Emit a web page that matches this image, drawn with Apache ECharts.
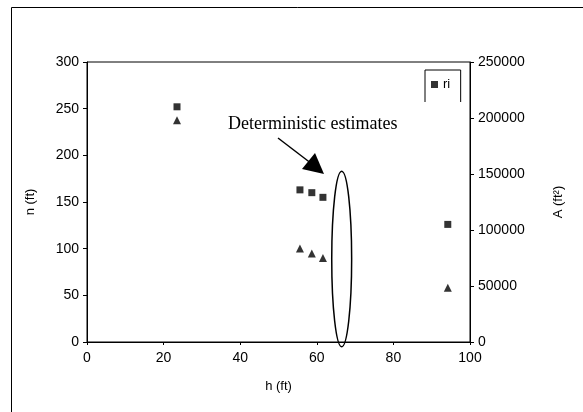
<!DOCTYPE html>
<html>
<head>
<meta charset="utf-8">
<script src="https://cdn.jsdelivr.net/npm/echarts@6/dist/echarts.min.js"></script>
<style>
  html, body { margin: 0; padding: 0; background: #fff; }
  #chart { width: 583px; height: 412px; }
</style>
</head>
<body>
<div id="chart"></div>
<script>
  // data
  var hValues = [23.5, 55.6, 58.7, 61.6, 94.2];
  var riValues = [252, 163, 160, 155, 126];
  var aValues = [198000, 83500, 79000, 75000, 48500];
  var xTicks = [0, 100, 20];      // min, max, interval
  var nTicks = [0, 300, 50];
  var aTicks = [0, 250000, 50000];
  // annotation: ellipse around the deterministic estimates (data units)
  var ellipseCenter = [66.5, 89];
  var ellipseRadius = [2.6, 94];

  var riData = hValues.map(function (h, i) { return [h, riValues[i]]; });
  var aData = hValues.map(function (h, i) { return [h, aValues[i]]; });

  var font = 'Liberation Sans, Arial, sans-serif';
  var myChart = echarts.init(document.getElementById('chart'));

  var option = {
    animation: false,
    grid: {
      left: 87, right: 113, top: 62, bottom: 70,
      show: true, borderColor: '#000', borderWidth: 1
    },
    legend: {
      orient: 'vertical',
      left: 425, top: 70,
      data: ['ri', 'A'],
      icon: 'rect',
      itemWidth: 7, itemHeight: 7, itemGap: 10,
      padding: [8, 9, 8, 6],
      borderColor: '#000', borderWidth: 1,
      textStyle: { fontFamily: font, fontSize: 13, color: '#000' }
    },
    xAxis: {
      type: 'value',
      min: xTicks[0], max: xTicks[1], interval: xTicks[2],
      name: 'h (ft)', nameLocation: 'middle', nameGap: 38,
      nameTextStyle: { fontFamily: font, fontSize: 13, color: '#000' },
      axisLine: { lineStyle: { color: '#000', width: 1 } },
      axisTick: { inside: false, length: 3, lineStyle: { color: '#000' } },
      axisLabel: { fontFamily: font, fontSize: 14, color: '#000', margin: 9 },
      splitLine: { show: false }
    },
    yAxis: [
      {
        type: 'value', position: 'left',
        min: nTicks[0], max: nTicks[1], interval: nTicks[2],
        name: 'n (ft)', nameLocation: 'middle', nameGap: 50, nameRotate: 90,
        nameTextStyle: { fontFamily: font, fontSize: 13, color: '#000' },
        axisLine: { show: true, lineStyle: { color: '#000', width: 1 } },
        axisTick: { show: true, length: 4, lineStyle: { color: '#000' } },
        axisLabel: { fontFamily: font, fontSize: 14, color: '#000', margin: 8 },
        splitLine: { show: false }
      },
      {
        type: 'value', position: 'right',
        min: aTicks[0], max: aTicks[1], interval: aTicks[2],
        name: 'A (ft²)', nameLocation: 'middle', nameGap: 82, nameRotate: 90,
        nameTextStyle: { fontFamily: font, fontSize: 13, color: '#000' },
        axisLine: { show: true, lineStyle: { color: '#000', width: 1 } },
        axisTick: { show: true, length: 4, lineStyle: { color: '#000' } },
        axisLabel: {
          fontFamily: font, fontSize: 14, color: '#000', margin: 8,
          formatter: function (v) { return String(v); }
        },
        splitLine: { show: false }
      }
    ],
    series: [
      {
        name: 'ri', type: 'scatter', yAxisIndex: 0,
        symbol: 'rect', symbolSize: 7,
        itemStyle: { color: '#000' },
        data: riData
      },
      {
        name: 'A', type: 'scatter', yAxisIndex: 1,
        symbol: 'triangle', symbolSize: 8,
        itemStyle: { color: '#000' },
        data: aData
      }
    ]
  };

  myChart.setOption(option);

  // annotations placed through the axes
  var c = myChart.convertToPixel({ xAxisIndex: 0, yAxisIndex: 0 }, ellipseCenter);
  var e = myChart.convertToPixel({ xAxisIndex: 0, yAxisIndex: 0 },
    [ellipseCenter[0] + ellipseRadius[0], ellipseCenter[1] + ellipseRadius[1]]);

  myChart.setOption({
    graphic: [
      {
        type: 'rect', z: -1, silent: true,
        shape: { x: 11.5, y: 7.5, width: 640, height: 440 },
        style: { fill: 'none', stroke: '#000', lineWidth: 1 }
      },
      {
        // hide the lower part of the legend box like the reference
        type: 'rect', z: 200, silent: true,
        shape: { x: 420, y: 102, width: 45, height: 30 },
        style: { fill: '#fff' }
      },
      {
        type: 'ellipse', z: 100, silent: true,
        shape: { cx: c[0], cy: c[1], rx: e[0] - c[0], ry: c[1] - e[1] },
        style: { fill: 'none', stroke: '#000', lineWidth: 1.5 }
      },
      {
        type: 'text', z: 100, silent: true,
        left: 228, top: 115,
        style: { text: 'Deterministic estimates', font: '18px "Liberation Serif", "Times New Roman", serif', fill: '#000' }
      },
      {
        type: 'line', z: 100, silent: true,
        shape: { x1: 278, y1: 138, x2: 312, y2: 164 },
        style: { stroke: '#000', lineWidth: 1.5 }
      },
      {
        type: 'polygon', z: 100, silent: true,
        shape: { points: [[324, 174], [302, 169], [315, 153]] },
        style: { fill: '#000' }
      }
    ]
  });
</script>
</body>
</html>
